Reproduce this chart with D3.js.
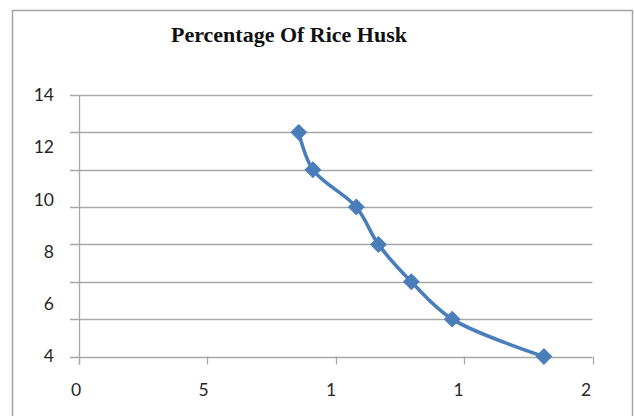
<!DOCTYPE html>
<html>
<head>
<meta charset="utf-8">
<script src="https://cdn.jsdelivr.net/npm/d3@7"></script>
<style>
  html, body { margin: 0; padding: 0; background: #fff; }
  svg { display: block; }
</style>
</head>
<body>
<script>
// Chart values
const chartTitle = "Percentage Of Rice Husk";
const xValues = [0.857, 0.912, 1.081, 1.167, 1.295, 1.454, 1.811];
const yValues = [12, 10, 8, 6, 4, 2, 0];
const xTickValues = [0, 0.5, 1, 1.5, 2];
const xTickLabels = ["0", "5", "1", "1", "2"];
const yGridValues = [0, 2, 4, 6, 8, 10, 12, 14];
const yTickLabels = [14, 12, 10, 8, 6, 4];

const W = 634, H = 416;
const svg = d3.select("body").append("svg")
  .attr("width", W).attr("height", H);

svg.append("rect").attr("width", W).attr("height", H).attr("fill", "#fff");

// chart frame
svg.append("path")
  .attr("d", "M12.5,420 V10.5 H632.5 V420")
  .attr("fill", "none").attr("stroke", "#a3a3a3").attr("stroke-width", 1.5);

const x = d3.scaleLinear().domain([0, 2]).range([78.5, 592.5]);
const y = d3.scaleLinear().domain([0, 14]).range([356.5, 95]);
const xLabelPos = d3.scaleLinear().domain([0, 2]).range([76, 586]);
const yLabelPos = d3.scaleLinear().domain([4, 14]).range([355.5, 95]);

const labelFont = "Lato, 'Open Sans', sans-serif";

// title
svg.append("text")
  .attr("x", 289).attr("y", 42)
  .attr("text-anchor", "middle")
  .attr("font-family", "'Liberation Serif', 'Times New Roman', serif")
  .attr("font-weight", "bold")
  .attr("font-size", 22)
  .attr("fill", "#111")
  .text(chartTitle);

// horizontal gridlines
svg.append("g").selectAll("line").data(yGridValues).join("line")
  .attr("x1", 70).attr("x2", x(2))
  .attr("y1", d => Math.round(y(d)) + 0.5).attr("y2", d => Math.round(y(d)) + 0.5)
  .attr("stroke", "#a8a8a8").attr("stroke-width", 1.3);

// x axis ticks
svg.append("g").selectAll("line").data(xTickValues).join("line")
  .attr("x1", d => Math.round(x(d)) + 0.5).attr("x2", d => Math.round(x(d)) + 0.5)
  .attr("y1", y(0)).attr("y2", y(0) + 8)
  .attr("stroke", "#a8a8a8").attr("stroke-width", 1.3);

// y axis line
svg.append("line")
  .attr("x1", Math.round(x(0)) + 0.5).attr("x2", Math.round(x(0)) + 0.5)
  .attr("y1", y(14)).attr("y2", y(0) + 8)
  .attr("stroke", "#a8a8a8").attr("stroke-width", 1.3);

// y tick labels
svg.append("g").selectAll("text").data(yTickLabels).join("text")
  .attr("x", 54).attr("y", d => yLabelPos(d))
  .attr("dy", "0.36em")
  .attr("text-anchor", "end")
  .attr("font-family", labelFont).attr("font-size", 17.5)
  .attr("fill", "#262626")
  .text(d => d);

// x tick labels
svg.append("g").selectAll("text").data(xTickValues).join("text")
  .attr("x", d => xLabelPos(d)).attr("y", 390)
  .attr("dy", "0.36em")
  .attr("text-anchor", "middle")
  .attr("font-family", labelFont).attr("font-size", 17.5)
  .attr("fill", "#262626")
  .text((d, i) => xTickLabels[i]);

// series line
const pts = xValues.map((v, i) => [v, yValues[i]]);
const line = d3.line()
  .x(d => x(d[0])).y(d => y(d[1]))
  .curve(d3.curveCatmullRom.alpha(0.5));

svg.append("path")
  .attr("d", line(pts))
  .attr("fill", "none")
  .attr("stroke", "#4a7ebb")
  .attr("stroke-width", 3.6)
  .attr("stroke-linejoin", "round");

// diamond markers
const diamond = d3.symbol(d3.symbolSquare, 120);
svg.append("g").selectAll("path").data(pts).join("path")
  .attr("d", diamond)
  .attr("transform", d => `translate(${x(d[0])},${y(d[1])}) rotate(45)`)
  .attr("fill", "#4a7ebb")
  .attr("stroke", "#4a7ebb").attr("stroke-width", 1);
</script>
</body>
</html>
